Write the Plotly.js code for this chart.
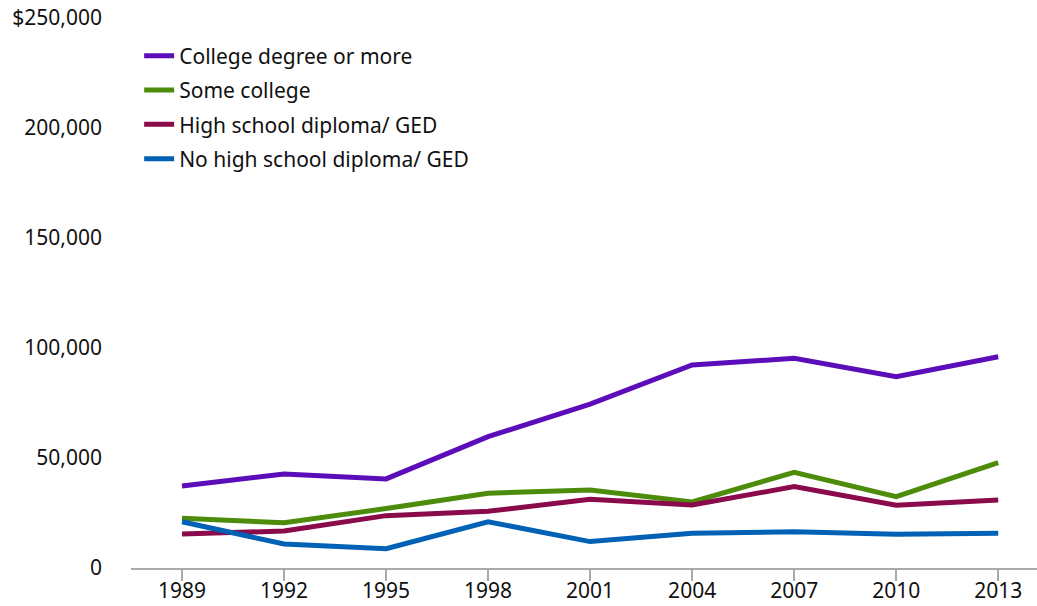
<!DOCTYPE html>
<html><head><meta charset="utf-8">
<script src="https://cdn.plot.ly/plotly-3.0.1.min.js"></script>
<style>html,body{margin:0;padding:0;background:#fff;}#chart{width:1037px;height:606px;}</style>
</head><body><div id="chart"></div>
<script>
const years = ['1989','1992','1995','1998','2001','2004','2007','2010','2013'];
const seriesNames = ['College degree or more','Some college','High school diploma/ GED','No high school diploma/ GED'];
const college = [37300, 42700, 40500, 59700, 74500, 92300, 95300, 87000, 96000];
const someCollege = [22600, 20600, 27000, 34000, 35500, 30000, 43500, 32400, 47900];
const highSchool = [15500, 16800, 23800, 25800, 31200, 28600, 37000, 28500, 30900];
const noHighSchool = [21000, 10900, 8800, 21000, 12000, 15800, 16500, 15300, 15800];
const colors = ['#5b0db9', '#4d8c0b', '#8a0a4c', '#0061b5'];
const yTickVals = [0, 50000, 100000, 150000, 200000, 250000];
const yTickText = ['0', '50,000', '100,000', '150,000', '200,000', '$250,000'];

const allSeries = [college, someCollege, highSchool, noHighSchool];
const traces = allSeries.map((vals, i) => ({
  x: years, y: vals, name: seriesNames[i], type: 'scatter', mode: 'lines',
  legendgroup: 'g' + i,
  line: {color: colors[i], width: 5}
}));
const font = "'Noto Sans', 'Open Sans', sans-serif";
const layout = {
  width: 1037, height: 606,
  margin: {l: 131, r: 0, t: 18, b: 38},
  paper_bgcolor: '#fff', plot_bgcolor: '#fff',
  font: {family: font, size: 21, color: '#111'},
  showlegend: true,
  legend: {x: 0.009, y: 0.968, xanchor: 'left', yanchor: 'top', font: {family: font, size: 21, color: '#111'},
    tracegroupgap: 4, itemwidth: 30, bgcolor: 'rgba(0,0,0,0)'},
  xaxis: {type: 'category', range: [-0.5, 8.38], showgrid: false, zeroline: false,
    showline: true, linecolor: '#aaaaaa', linewidth: 2, ticks: 'outside', ticklen: 11, tickwidth: 2, tickcolor: '#aaaaaa',
    ticklabelstandoff: -8,
    tickfont: {family: font, size: 21, color: '#111'}, fixedrange: true},
  yaxis: {range: [0, 250000], showgrid: false, zeroline: false, showline: false, ticks: '',
    ticklabelstandoff: 28,
    tickvals: yTickVals, ticktext: yTickText, tickfont: {family: font, size: 21, color: '#111'}, fixedrange: true}
};
Plotly.newPlot('chart', traces, layout, {displayModeBar: false, staticPlot: true});
</script></body></html>
